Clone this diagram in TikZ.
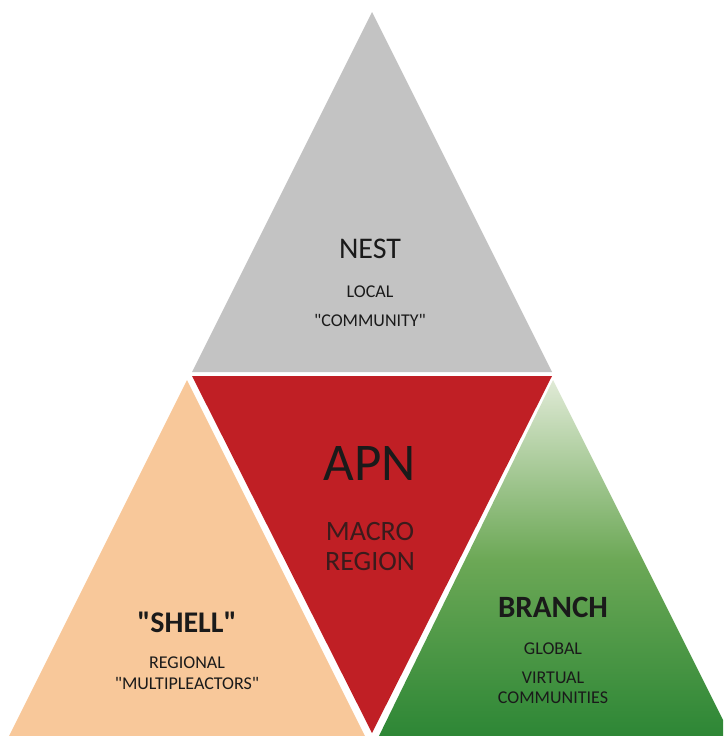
\documentclass[tikz,border=0pt]{standalone}
\usepackage{fontspec}
\setmainfont{Carlito}[Ligatures=TeXOff]
\definecolor{nestgray}{HTML}{C3C3C3}
\definecolor{apnred}{HTML}{C01F25}
\definecolor{shellorange}{HTML}{F8C89A}
\definecolor{greentop}{HTML}{E0EAD6}
\definecolor{greenmid}{HTML}{6CA856}
\definecolor{greenbot}{HTML}{2C8635}
\definecolor{txtdark}{HTML}{1A1A1A}
\tikzset{
  title/.style={font=\fontsize{30}{32}\selectfont, text=txtdark, inner sep=0pt},
  btitle/.style={font=\fontsize{30}{32}\selectfont\bfseries, text=txtdark, inner sep=0pt},
  sub/.style={font=\fontsize{18}{20}\selectfont, text=txtdark, inner sep=0pt},
}
\begin{document}
\begin{tikzpicture}[x=1pt,y=-1pt]
\useasboundingbox (0,0) rectangle (723,736);
\clip (0,0) rectangle (723,736);
% triangles
\fill[nestgray] (372,12) -- (552,372) -- (192,372) -- cycle;
\fill[apnred] (192,376) -- (552,376) -- (372,733) -- cycle;
\fill[shellorange] (187,380) -- (367,740) -- (7,740) -- cycle;
\shade[top color=greentop, bottom color=greenbot, middle color=greenmid] (553,380) -- (733,740) -- (377,740) -- cycle;
% texts
\node[title] (nest) at (370,249) {NEST};
\node[sub] (local) at (370,292) {LOCAL};
\node[sub] (comm) at (370,320) {"COMMUNITY"};
\node[font=\fontsize{53}{55}\selectfont, text=txtdark, inner sep=0pt] (apn) at (370,463) {APN};
\node[font=\fontsize{28}{30}\selectfont, text=txtdark!80!apnred, inner sep=0pt] (macro) at (370,532) {MACRO};
\node[font=\fontsize{28}{30}\selectfont, text=txtdark!80!apnred, inner sep=0pt] (region) at (370,562) {REGION};
\node[btitle] (shell) at (187,622) {"SHELL"};
\node[sub] (regional) at (187,663) {REGIONAL};
\node[sub] (multi) at (187,683) {"MULTIPLEACTORS"};
\node[font=\fontsize{31}{33}\selectfont\bfseries, text=txtdark, inner sep=0pt] (branch) at (553,607) {BRANCH};
\node[sub] (global) at (553,649) {GLOBAL};
\node[sub] (virtual) at (553,678) {VIRTUAL};
\node[sub] (communities) at (553,698) {COMMUNITIES};
\end{tikzpicture}
\end{document}
